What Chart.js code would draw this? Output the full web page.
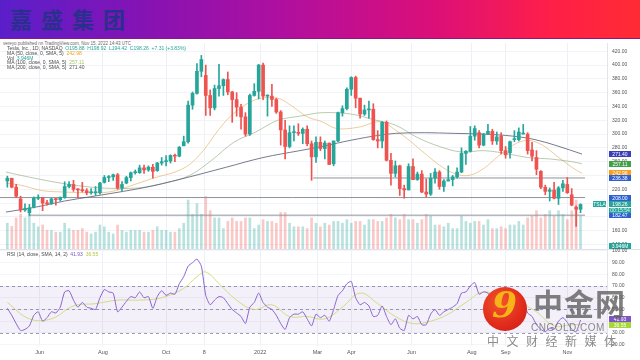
<!DOCTYPE html>
<html>
<head>
<meta charset="utf-8">
<script src="https://cdn.jsdelivr.net/npm/chart.js@4.4.1/dist/chart.umd.min.js"></script>
<style>
  html,body{margin:0;padding:0;background:#fff;}
  body{width:640px;height:360px;position:relative;overflow:hidden;font-family:"Liberation Sans","DejaVu Sans",sans-serif;}
  #band{position:absolute;left:0;top:0;width:640px;height:38px;background:linear-gradient(90deg,#5a1fca 0%,#8413b4 22%,#b10f9e 45%,#dc0f78 68%,#ff1f48 86%,#ff2b34 100%);border-bottom:1px solid #8a1a80;}
  #brand{position:absolute;left:10px;top:4px;font-weight:bold;font-size:22px;font-family:"Noto Sans CJK SC";color:#2a2f8e;letter-spacing:9px;line-height:28px;}
  #pub{position:absolute;left:3px;top:41px;font-size:4.5px;line-height:5px;color:#666;white-space:pre;}
  .lg{position:absolute;left:7px;font-size:5px;line-height:5px;color:#4a4a4a;white-space:pre;}
  canvas{position:absolute;left:0;}
  #c1{top:43px;}
  #c2{top:246px;}
  #sep{position:absolute;left:0;top:249px;width:640px;height:1px;background:#dfe2ea;}
  #wm-circle{position:absolute;left:483px;top:287px;width:44px;height:44px;border-radius:50%;background:radial-gradient(circle at 40% 35%,#f2552a 0%,#e02a1c 60%,#c81a14 100%);overflow:hidden;}
  #wm-swirl{position:absolute;left:9px;top:-4px;font:bold italic 36px "DejaVu Serif";color:#f7b418;}
  #wm-cn{position:absolute;left:533px;top:284px;font:bold 30px "Noto Sans CJK SC";color:rgba(95,95,95,0.8);letter-spacing:1px;line-height:36px;}
  #wm-en{position:absolute;left:531px;top:322px;font:10px "Liberation Sans";color:rgba(110,110,110,0.8);letter-spacing:0.5px;}
  #wm-sub{position:absolute;left:487px;top:334px;font:12px "Noto Sans CJK SC";color:rgba(110,110,110,0.8);letter-spacing:7.5px;line-height:14px;}
</style>
</head>
<body>
<div id="band"><div id="brand">嘉盛集团</div></div>
<div id="pub">vereyo published on TradingView.com, Nov 15, 2022 14:43 UTC</div>
<canvas id="c1" width="640" height="207"></canvas>
<div id="sep"></div>
<canvas id="c2" width="640" height="114"></canvas>
<div class="lg" style="top:46px">Tesla, Inc., 1D, NASDAQ  <span style="color:#26a69a">O195.88  H198.92  L194.42  C198.26  +7.31 (+3.83%)</span></div>
<div class="lg" style="top:51px">MA (50, close, 0, SMA, 5)  <span style="color:#f0a020">242.98</span></div>
<div class="lg" style="top:55.5px">Vol  <span style="color:#26a69a">3.946M</span></div>
<div class="lg" style="top:60px">MA (100, close, 0, SMA, 5)  <span style="color:#a8c46a">257.11</span></div>
<div class="lg" style="top:64.5px">MA (200, close, 0, SMA, 5)  <span style="color:#555">271.40</span></div>
<div class="lg" style="top:251.5px">RSI (14, close, SMA, 14, 2)  <span style="color:#7e57c2">41.93</span>  <span style="color:#b5c83a">36.55</span></div>
<div id="wm-circle"><div id="wm-swirl">9</div></div>
<div id="wm-cn">中金网</div>
<div id="wm-en">CNGOLD.COM</div>
<div id="wm-sub">中文财经新媒体</div>
<script>
// ---- data: 3-trading-day candles from Apr 28 2021 to Nov 15 2022 ----
const OPEN  = [232,236,223,206,190,186,194,207,208,200,199,206,205,208,224,227,220,219,218,215,215,215,230,237,238,241,222,229,237,244,244,251,248,252,247,258,260,261,269,268,283,289,342,359,391,385,356,338,366,370,379,361,350,339,325,300,356,362,400,355,355,350,332,306,282,302,302,301,307,286,267,288,279,287,257,290,331,337,365,382,352,329,335,336,292,290,317,262,243,254,221,219,253,234,242,216,213,236,245,224,232,234,238,245,272,275,297,302,284,300,304,290,297,276,273,292,292,300,300,277,266,246,223,217,219,207,222,227,212,194,191];
const HIGH  = [239,236,227,210,199,198,209,212,208,204,207,207,209,231,231,233,221,230,221,221,224,230,240,240,242,243,231,239,245,248,255,255,254,256,259,266,269,270,271,282,297,348,361,402,414,400,364,371,401,380,390,362,360,343,331,358,373,401,403,357,372,352,334,320,312,312,315,309,312,290,296,296,290,287,290,332,341,367,383,384,352,342,348,344,305,318,319,272,261,255,226,257,264,245,247,235,243,250,247,234,254,240,251,280,276,311,312,305,301,314,307,303,302,282,290,305,309,314,302,288,276,247,226,222,230,224,233,237,221,196,199];
const LOW   = [223,222,208,187,188,182,193,205,189,197,198,197,203,207,222,217,208,216,212,213,211,213,229,231,233,220,217,228,232,242,243,243,246,236,246,255,254,258,260,267,283,287,336,358,383,327,327,335,355,356,357,317,326,307,297,298,355,351,350,326,340,330,284,264,280,290,298,286,283,233,259,276,264,256,254,289,326,335,356,338,323,327,323,291,280,280,261,226,238,211,207,219,234,233,215,209,211,229,220,217,232,225,236,244,256,274,291,280,283,300,285,285,271,265,265,289,290,300,271,261,241,221,212,203,206,198,217,214,196,166,186];
const CLOSE = [236,223,210,190,192,193,207,208,200,199,206,205,208,224,227,220,219,218,215,215,215,229,237,238,241,222,227,237,244,244,251,248,252,246,258,260,261,269,268,281,289,342,359,391,408,356,338,366,370,379,361,350,339,325,300,356,362,400,355,355,350,332,306,282,302,302,301,307,286,267,288,279,287,256,290,331,337,365,382,352,329,335,336,292,290,317,262,243,254,221,219,253,234,242,216,213,236,245,224,232,234,238,245,272,275,297,308,284,300,304,290,296,276,270,289,292,303,301,276,268,249,223,217,219,207,222,228,215,197,191,198];
const VOLUME = [75,66,90,100,90,100,75,65,70,55,55,50,50,75,60,55,55,60,50,45,50,70,65,50,45,70,55,50,55,55,55,50,50,55,65,55,55,50,50,60,75,140,100,130,100,150,110,90,90,60,80,90,80,80,90,90,60,70,85,80,80,75,105,105,75,65,65,65,60,90,75,65,75,70,80,80,75,85,75,80,80,70,85,85,80,80,90,100,90,85,100,85,85,75,85,100,95,70,70,65,75,60,60,95,80,75,80,80,70,85,60,60,65,60,70,70,80,70,90,95,110,90,100,110,95,110,100,85,110,140,95];
const RSI = [51,45,38,32,33,36,45,48,40,43,48,47,52,65,66,58,52,56,52,51,50,60,67,65,64,48,52,57,61,60,65,60,61,51,61,66,62,64,63,72,78,87,90,93,87,62,54,58,61,60,55,50,47,44,38,52,56,64,56,52,50,45,38,33,43,46,46,48,42,36,46,43,45,40,50,62,66,72,74,60,54,56,53,44,45,53,44,37,42,34,32,45,42,44,37,37,46,50,45,48,50,52,55,64,65,70,73,63,65,64,58,59,52,50,56,57,59,57,47,44,37,33,31,34,33,40,43,39,33,31,41];
// moving averages (trading-day index -> value)
const MA50_IDX = [0,10,25,40,55,70,85,100,115,125,135,145,155,170,185,195,205,215,225,240,255,265,275,285,295,305,315,325,335,345,355,365,375,385,392];
const MA50     = [229,226,218,216,215,216,225,236,245,256,278,307,330,350,352,340,325,318,308,310,318,306,290,272,255,243,240,250,268,284,291,284,268,252,243];
const MA100_IDX = [0,15,40,65,90,110,125,140,155,170,185,200,215,235,250,265,280,295,310,325,340,355,370,385,392];
const MA100     = [245,238,228,222,222,230,240,262,288,303,320,326,331,329,321,313,295,282,274,276,272,266,264,260,257];
const MA200_IDX = [0,20,40,60,80,100,125,150,175,200,215,230,250,265,285,305,325,345,360,375,392];
const MA200     = [187,194,203,210,217,225,238,252,266,276,282,289,297,301,302,301,300,297,292,283,271];
const RSI_MA_IDX = [1,16,31,46,61,76,91,106,121,130,136,145,157,169,181,193,205,217,229,241,253,265,277,289,301,313,325,337,349,361,373,385,392];
const RSI_MA     = [56,42,42,53,55,58,58,60,68,78,82,72,58,50,54,44,44,42,52,64,55,44,38,40,46,56,65,60,56,48,36,37,37];
// horizontal levels
const LEVEL_VALUES = [236.38, 208.00, 182.47];
const LEVEL_START  = [209, -4, 16];
// axis ticks
const MONTH_IDX    = [23,66,109,135,173,212,235,276,317,340,382];
const MONTH_LABELS = ['Jun','Aug','Oct','8','2022','Mar','Apr','Jun','Aug','Sep','Nov'];
const PRICE_TICKS  = [140,160,180,200,220,240,260,280,300,320,340,360,380,400,420];
const RSI_TICKS    = [20,30,40,50,60,70,80,90,100];
// axis tags
const TAG_VALUES = [271.40, 257.11, 242.98, 236.38, 208.00, 182.47];
const TAG_COLORS = ['#3b3fb6','#43a047','#f5a020','#2f5fd0','#2f5fd0','#2f5fd0'];
const LAST_PRICE = 198.26, COUNTDOWN = '00:15:54', LAST_VOL = 3.946, LAST_VOL_TXT = '3.946M';
const RSI_LAST = 41.93, RSI_MA_LAST = 36.55;

const X_MIN = -4, X_MAX = 409;
const UP = '#26a69a', DN = '#ef5350';
const FONT = '"Liberation Sans"';
const xs = CLOSE.map((_, k) => 3 * k + 1);
const isUp = CLOSE.map((c, k) => c >= OPEN[k]);

function tag(ctx, x, y, w, h, bg, txt, fg) {
  ctx.save();
  ctx.fillStyle = bg; ctx.fillRect(x, Math.round(y - h / 2), w, h);
  ctx.fillStyle = fg || '#fff'; ctx.font = '5px ' + FONT;
  ctx.textAlign = 'center'; ctx.textBaseline = 'middle';
  ctx.fillText(txt, x + w / 2, Math.round(y - h / 2) + h / 2 + 0.3);
  ctx.restore();
}
const noPad = s => { s.paddingTop = 0; s.paddingBottom = 0; s.paddingLeft = 0; s.paddingRight = 0; };

const mainTags = {
  id: 'mainTags',
  afterDraw(chart) {
    const ctx = chart.ctx, y = chart.scales.y, v = chart.scales.yv;
    const ax = chart.chartArea.right + 2;
    TAG_VALUES.forEach((val, i) => tag(ctx, ax, y.getPixelForValue(val), 22, 6, TAG_COLORS[i], val.toFixed(2)));
    const py = y.getPixelForValue(LAST_PRICE);
    tag(ctx, ax, py, 22, 6, UP, LAST_PRICE.toFixed(2));
    tag(ctx, ax, py + 6, 22, 5, UP, COUNTDOWN, '#e0f5f2');
    tag(ctx, chart.chartArea.right - 14, py, 13, 6, UP, 'TSLA');
    const vy = Math.min(v.getPixelForValue(LAST_VOL), chart.chartArea.bottom - 4);
    tag(ctx, ax, vy, 22, 6, UP, LAST_VOL_TXT);
  }
};

const lineDs = (idx, vals, color, extra) => Object.assign({
  type: 'line', data: idx.map((x, i) => ({x, y: vals[i]})), borderColor: color, borderWidth: 1,
  pointRadius: 0, tension: 0.35, yAxisID: 'y', order: 2
}, extra || {});

const datasets = [
  {type: 'bar', data: xs.map((x, k) => ({x, y: VOLUME[k]})), yAxisID: 'yv', grouped: false, barThickness: 2,
   backgroundColor: isUp.map(u => u ? 'rgba(38,166,154,0.32)' : 'rgba(239,83,80,0.32)'), order: 9},
  lineDs(MA200_IDX, MA200, 'rgba(88,90,112,0.8)'),
  lineDs(MA100_IDX, MA100, 'rgba(130,160,110,0.55)'),
  lineDs(MA50_IDX, MA50, 'rgba(225,170,90,0.6)'),
];
LEVEL_VALUES.forEach((lv, i) => datasets.push({
  type: 'line', data: [{x: LEVEL_START[i], y: lv}, {x: 394, y: lv}], borderColor: '#8f939c', borderWidth: 1,
  pointRadius: 0, yAxisID: 'y', order: 3
}));
datasets.push({type: 'bar', data: xs.map((x, k) => ({x, y: [LOW[k], HIGH[k]]})), yAxisID: 'y', grouped: false,
  barThickness: 1, backgroundColor: isUp.map(u => u ? UP : DN), order: 1});
datasets.push({type: 'bar', data: xs.map((x, k) => ({x, y: [OPEN[k], CLOSE[k]]})), yAxisID: 'y', grouped: false,
  barThickness: 3, minBarLength: 1, backgroundColor: isUp.map(u => u ? UP : DN), order: 0});

const xAxisCommon = {
  type: 'linear', min: X_MIN, max: X_MAX, offset: false,
  afterBuildTicks: a => { a.ticks = MONTH_IDX.map(v => ({value: v})); },
  grid: {color: '#eef0f5', drawTicks: false, offset: false},
  border: {display: false}
};

new Chart(document.getElementById('c1'), {
  type: 'bar',
  data: {datasets},
  plugins: [mainTags],
  options: {
    responsive: false, animation: false, devicePixelRatio: 1,
    layout: {padding: 0},
    plugins: {legend: {display: false}, tooltip: {enabled: false}},
    scales: {
      x: Object.assign({}, xAxisCommon, {ticks: {display: false}, afterFit: s => { s.height = 0; noPad(s); }}),
      y: {
        position: 'right', min: 132, max: 432,
        afterBuildTicks: a => { a.ticks = PRICE_TICKS.map(v => ({value: v})); },
        afterFit: s => { s.width = 33; noPad(s); },
        ticks: {font: {size: 5, family: FONT}, color: '#555', padding: 5, callback: v => v.toFixed(2)},
        grid: {color: '#f2f3f6', drawTicks: false},
        border: {display: true, color: '#e3e5ec'}
      },
      yv: {display: false, min: 0, max: 580}
    }
  }
});

const rsiDecor = {
  id: 'rsiDecor',
  beforeDatasetsDraw(chart) {
    const ctx = chart.ctx, y = chart.scales.y, a = chart.chartArea;
    const y70 = y.getPixelForValue(70), y30 = y.getPixelForValue(30), y50 = y.getPixelForValue(50);
    ctx.save();
    ctx.fillStyle = 'rgba(126,87,194,0.09)';
    ctx.fillRect(a.left, y70, a.right - a.left, y30 - y70);
    ctx.strokeStyle = 'rgba(120,123,160,0.75)'; ctx.lineWidth = 1; ctx.setLineDash([3, 3]);
    [y70, y50, y30].forEach(yy => { ctx.beginPath(); ctx.moveTo(a.left, Math.round(yy) + 0.5); ctx.lineTo(a.right, Math.round(yy) + 0.5); ctx.stroke(); });
    ctx.restore();
  },
  afterDraw(chart) {
    const ctx = chart.ctx, y = chart.scales.y, ax = chart.chartArea.right + 2;
    tag(ctx, ax, y.getPixelForValue(RSI_LAST), 22, 6, '#7e57c2', RSI_LAST.toFixed(2));
    tag(ctx, ax, y.getPixelForValue(RSI_MA_LAST), 22, 6, '#a5d63a', RSI_MA_LAST.toFixed(2));
  }
};

new Chart(document.getElementById('c2'), {
  type: 'line',
  data: {datasets: [
    {data: xs.map((x, k) => ({x, y: RSI[k]})), borderColor: '#8a63cc', borderWidth: 1, pointRadius: 0, tension: 0.2},
    {data: RSI_MA_IDX.map((x, i) => ({x, y: RSI_MA[i]})), borderColor: 'rgba(205,215,110,0.85)', borderWidth: 1, pointRadius: 0, tension: 0.4}
  ]},
  plugins: [rsiDecor],
  options: {
    responsive: false, animation: false, devicePixelRatio: 1,
    layout: {padding: {top: 4}},
    plugins: {legend: {display: false}, tooltip: {enabled: false}},
    scales: {
      x: Object.assign({}, xAxisCommon, {
        ticks: {font: {size: 5.5, family: FONT}, color: '#555', padding: 3, maxRotation: 0, autoSkip: false,
                callback: v => MONTH_LABELS[MONTH_IDX.indexOf(v)]},
        afterFit: s => { s.height = 14; noPad(s); }
      }),
      y: {
        position: 'right', min: 18.8, max: 100.8,
        afterBuildTicks: a => { a.ticks = RSI_TICKS.map(v => ({value: v})); },
        afterFit: s => { s.width = 33; noPad(s); },
        ticks: {font: {size: 5, family: FONT}, color: '#555', padding: 5, callback: v => v.toFixed(2)},
        grid: {color: '#f4f5f8', drawTicks: false},
        border: {display: true, color: '#e3e5ec'}
      }
    }
  }
});
</script>
</body>
</html>
